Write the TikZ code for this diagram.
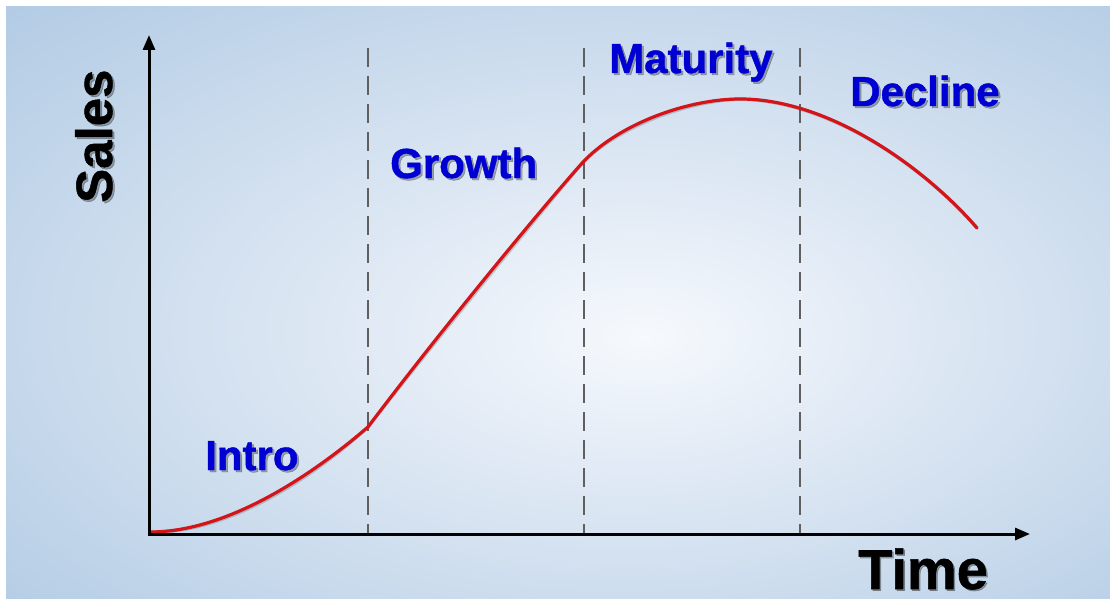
\documentclass[tikz,border=0pt]{standalone}
\usepackage{fontspec}
\setmainfont{Liberation Sans}[BoldFeatures={FakeBold=1.0}]
\usetikzlibrary{arrows.meta}
\definecolor{bgA}{RGB}{246,249,253}
\definecolor{bgB}{RGB}{228,236,246}
\definecolor{bgC}{RGB}{178,203,228}
\definecolor{bgD}{RGB}{138,175,210}
\definecolor{lblue}{RGB}{0,0,210}
\definecolor{curvered}{RGB}{212,20,24}
\definecolor{dashgray}{RGB}{95,95,95}
\pgfdeclareradialshading{bgshade}{\pgfpoint{4bp}{-3bp}}{%
  color(0bp)=(bgA); color(10bp)=(bgB); color(38bp)=(bgC); color(74bp)=(bgD)}
\tikzset{
  axisline/.style={line width=3pt, black, -{Triangle[length=15pt,width=12pt]}},
  phase/.style={dashgray, line width=2.4pt, dash pattern=on 19pt off 9pt},
  lbl/.style={font=\fontsize{42}{42}\selectfont\bfseries, text=lblue, inner sep=0pt, anchor=base west},
  shadowtxt/.style={font=\fontsize{42}{42}\selectfont\bfseries, text=black, opacity=0.3, inner sep=0pt, anchor=base west},
  bigtxt/.style={font=\fontsize{#1}{#1}\selectfont\bfseries, inner sep=0pt, anchor=base west},
  salescurve/.style={curvered, line width=3.2pt, line cap=round, line join=round},
}
\begin{document}
\begin{tikzpicture}[x=1pt,y=-1pt]
\useasboundingbox (0,0) rectangle (1110,599);
\fill[white] (0,0) rectangle (1110,599);
\shade[shading=bgshade] (6,7) rectangle (1110,598);

% coordinates
\coordinate (O) at (149,534);
\coordinate (Ytop) at (149,35);
\coordinate (Xend) at (1030,534);
\coordinate (d1t) at (368,48);  \coordinate (d1b) at (368,534);
\coordinate (d2t) at (584,48);  \coordinate (d2b) at (584,534);
\coordinate (d3t) at (800,48);  \coordinate (d3b) at (800,534);
\coordinate (c0) at (150,532);
\coordinate (c1) at (368,427);
\coordinate (c2) at (584,161);
\coordinate (c3) at (740,99);
\coordinate (c4) at (977,228);

% phase separators
\draw[phase] (d1t) -- (d1b);
\draw[phase] (d2t) -- (d2b);
\draw[phase] (d3t) -- (d3b);

% curve shadow and curve
\begin{scope}[shift={(1.5,1.5)}]
\draw[black, opacity=0.18, line width=3.5pt, line cap=round]
  (c0) .. controls (235,532) and (325,464) .. (c1)
       .. controls (438,334) and (540,210) .. (c2)
       .. controls (622,122) and (690,99) .. (c3)
       .. controls (830,99) and (925,168) .. (c4);
\end{scope}
\draw[salescurve]
  (c0) .. controls (235,532) and (325,464) .. (c1)
       .. controls (438,334) and (540,210) .. (c2)
       .. controls (622,122) and (690,99) .. (c3)
       .. controls (830,99) and (925,168) .. (c4);

% axes
\draw[axisline] (O) -- (Ytop);
\draw[axisline] ([xshift=-1.5pt]O) -- (Xend);

% phase labels with shadow
\node[shadowtxt] (intros) at (207,472) {Intro};
\node[lbl] (intro) at (205,470) {Intro};
\node[shadowtxt] (growths) at (392,180) {Growth};
\node[lbl] (growth) at (390,178) {Growth};
\node[shadowtxt] (maturitys) at (611,75) {Maturity};
\node[lbl] (maturity) at (609,73) {Maturity};
\node[shadowtxt] (declines) at (852,108) {Decline};
\node[lbl] (decline) at (850,106) {Decline};

% axis titles
\node[bigtxt=56, text=black, opacity=0.3] (times) at (859.5,590.5) {Time};
\node[bigtxt=56, text=black] (time) at (858,589) {Time};
\node[bigtxt=51, text=black, opacity=0.3, rotate=90] (saless) at (114,205) {Sales};
\node[bigtxt=51, text=black, rotate=90] (sales) at (112,203) {Sales};
\end{tikzpicture}
\end{document}
